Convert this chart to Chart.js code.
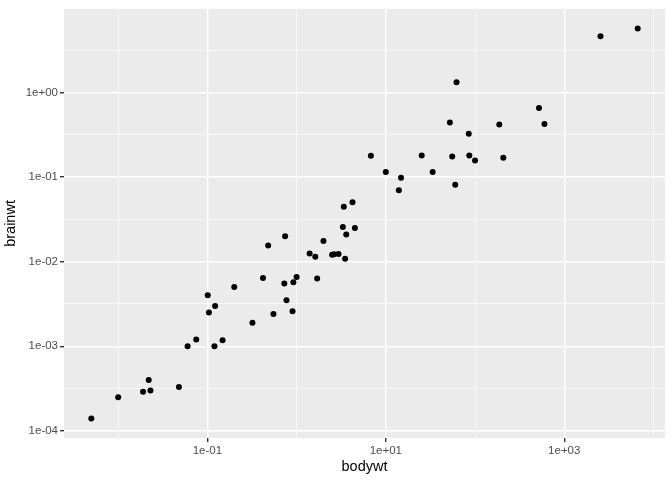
<!DOCTYPE html>
<html>
<head>
<meta charset="utf-8">
<script src="https://cdn.jsdelivr.net/npm/chart.js@4"></script>
<style>
  html, body { margin: 0; padding: 0; background: #FFFFFF; }
</style>
</head>
<body>
<canvas id="myChart" width="672" height="480"></canvas>
<script>
// msleep: body weight (kg) vs brain weight (kg), rows with brainwt present
const bodywt = [0.48, 0.019, 600, 14, 14.8, 33.5, 0.728, 0.42, 0.06, 1.0,
  0.005, 3.5, 2.95, 1.7, 2547, 0.023, 521, 187, 0.77, 10,
  3.3, 0.2, 85, 2.625, 62, 6654, 6.8, 0.12, 0.022, 0.01,
  1.4, 2.5, 55.5, 52.2, 100, 25.235, 0.55, 1.62, 60, 3.6,
  0.32, 0.743, 0.075, 0.148, 0.122, 0.92, 0.101, 0.048, 86.25, 4.5,
  207.501, 0.9, 0.104, 2.0, 3.38, 4.23]
const brainwt = [0.0155, 0.00029, 0.423, 0.07, 0.0982, 0.115, 0.0055, 0.0064, 0.001, 0.0066,
  0.00014, 0.0108, 0.0123, 0.0063, 4.603, 0.0003, 0.655, 0.419, 0.0035, 0.115,
  0.0256, 0.005, 0.325, 0.01225, 1.32, 5.712, 0.179, 0.001, 0.0004, 0.00025,
  0.0125, 0.0121, 0.175, 0.44, 0.157, 0.18, 0.0024, 0.0114, 0.081, 0.021,
  0.0019, 0.02, 0.0012, 0.00118, 0.003, 0.0057, 0.004, 0.00033, 0.18, 0.025,
  0.169, 0.0026, 0.0025, 0.0175, 0.0445, 0.0504]

const xMajor = [1e-1, 1e1, 1e3]
const xLabels = ["1e-01", "1e+01", "1e+03"]
const xMinor = [1e-2, 1e0, 1e2, 1e4]
const yMajor = [1e-4, 1e-3, 1e-2, 1e-1, 1e0]
const yLabels = ["1e-04", "1e-03", "1e-02", "1e-01", "1e+00"]
const yMinor = [10 ** -3.5, 10 ** -2.5, 10 ** -1.5, 10 ** -0.5, 10 ** 0.5]

// ggplot-style 5% expansion in log space
const xRange = [Math.log10(0.005), Math.log10(6654)]
const yRange = [Math.log10(0.00014), Math.log10(5.712)]
const xPad = (xRange[1] - xRange[0]) * 0.05
const yPad = (yRange[1] - yRange[0]) * 0.05

const points = bodywt.map((b, i) => ({x: b, y: brainwt[i]}))

function majorIndex(list, v) {
  return list.findIndex(m => Math.abs(Math.log10(m) - Math.log10(v)) < 1e-6)
}

function axisOpts(major, labels, minor, lo, hi, titleText, isY) {
  return {
    type: "logarithmic",
    min: 10 ** lo,
    max: 10 ** hi,
    afterBuildTicks: scale => {
      scale.ticks = major.concat(minor).sort((a, b) => a - b).map(v => ({value: v}))
    },
    afterFit: scale => {
      if (isY) scale.width = 64
      else scale.height = 42
    },
    border: { display: false },
    grid: {
      color: "#FFFFFF",
      lineWidth: ctx => majorIndex(major, ctx.tick.value) >= 0 ? 1.4 : 0.6,
      tickColor: ctx => majorIndex(major, ctx.tick.value) >= 0 ? "#333333" : "rgba(0,0,0,0)",
      tickLength: 4,
      drawTicks: true
    },
    ticks: {
      autoSkip: false,
      maxRotation: 0,
      padding: 2,
      color: "#4D4D4D",
      font: { family: "'Liberation Sans', Arial, sans-serif", size: 11.5 },
      callback: value => {
        const i = majorIndex(major, value)
        return i >= 0 ? labels[i] : ""
      }
    },
    title: {
      display: true,
      text: titleText,
      color: "#000000",
      padding: isY ? {top: 2, bottom: 2} : {top: 4, bottom: 4},
      font: { family: "'Liberation Sans', Arial, sans-serif", size: 14.5 }
    }
  }
}

// grey panel behind the grid
const panelBg = {
  id: "panelBg",
  beforeDraw(chart) {
    const {ctx, chartArea} = chart
    ctx.save()
    ctx.fillStyle = "#FFFFFF"
    ctx.fillRect(0, 0, chart.width, chart.height)
    ctx.fillStyle = "#EBEBEB"
    ctx.fillRect(chartArea.left, chartArea.top, chartArea.right - chartArea.left, chartArea.bottom - chartArea.top)
    ctx.restore()
  }
}

const ctx = document.getElementById("myChart")

new Chart(ctx, {
  type: "scatter",
  data: {
    datasets: [{
      data: points,
      backgroundColor: "#000000",
      borderWidth: 0,
      pointRadius: 3,
      pointHoverRadius: 3
    }]
  },
  options: {
    responsive: false,
    animation: false,
    layout: { padding: {top: 7, right: 7, left: 0, bottom: 0} },
    plugins: {
      legend: { display: false },
      tooltip: { enabled: false }
    },
    scales: {
      x: axisOpts(xMajor, xLabels, xMinor, xRange[0] - xPad, xRange[1] + xPad, "bodywt", false),
      y: axisOpts(yMajor, yLabels, yMinor, yRange[0] - yPad, yRange[1] + yPad, "brainwt", true)
    }
  },
  plugins: [panelBg]
})
</script>
</body>
</html>
